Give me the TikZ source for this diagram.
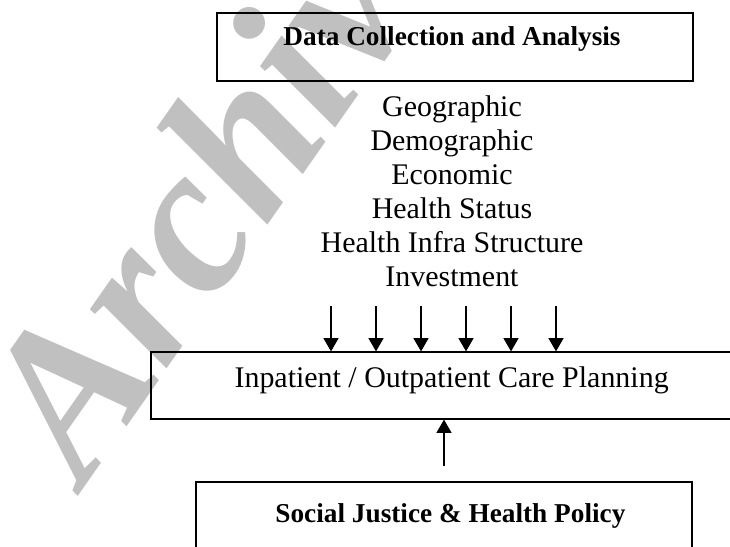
\documentclass[tikz,border=0pt]{standalone}
\usepackage{fontspec}
\setmainfont{Liberation Serif}
\usetikzlibrary{arrows.meta}

\definecolor{markgray}{HTML}{C0C0C0}

\begin{document}
\begin{tikzpicture}[
    box/.style={draw, line width=0.9pt, inner sep=0pt},
    txt/.style={font=\fontsize{21.3}{26}\selectfont, inner sep=0pt, anchor=base},
    head/.style={font=\fontsize{19.4}{24}\selectfont\bfseries, inner sep=0pt, anchor=base},
    arr/.style={line width=0.75pt, -{Triangle[width=0.375cm, length=0.33cm]}}
  ]
        \useasboundingbox (0,0) rectangle (18.25,13.65);
        \clip (0,0) rectangle (18.25,13.65);

        % watermark behind everything
        \node[anchor=base west, rotate=55, inner sep=0pt, text=markgray,
              font=\fontsize{150}{150}\selectfont\bfseries\itshape] (mark) at (2.1,1.45) {Archive};

        % boxes
        \node[box, minimum width=11.9cm, minimum height=1.7cm] (data) at (11.375,12.475) {};
        \node[box, minimum width=14.725cm, minimum height=1.675cm] (plan) at (11.1375,4.0125) {};
        \node[box, minimum width=12.4cm, minimum height=2.1cm] (policy) at (11.1,0.55) {};

        \node[head] (datatext) at (11.3,12.5) {Data Collection and Analysis};
        \node[txt] (plantext) at (11.29,3.975) {Inpatient / Outpatient Care Planning};
        \node[head] (policytext) at (11.26,0.6) {Social Justice \& Health Policy};

        % factor list
        \foreach \name [count=\i] in {Geographic, Demographic, Economic, Health Status,
                                      Health Infra Structure, Investment}
            \node[txt] (f\i) at (11.3,{10.7375-0.85*(\i-1)}) {\name};

        % arrows into the planning box
        \foreach \x [count=\i] in {8.275,9.4,10.525,11.65,12.775,13.9} {
            \coordinate (in\i) at (\x,6.0);
            \draw[arr] (in\i) -- (in\i |- plan.north);
        }
        \coordinate (policyin) at (11.1,2.0);
        \draw[arr] (policyin) -- (policyin |- plan.south);
    \end{tikzpicture}
\end{document}
